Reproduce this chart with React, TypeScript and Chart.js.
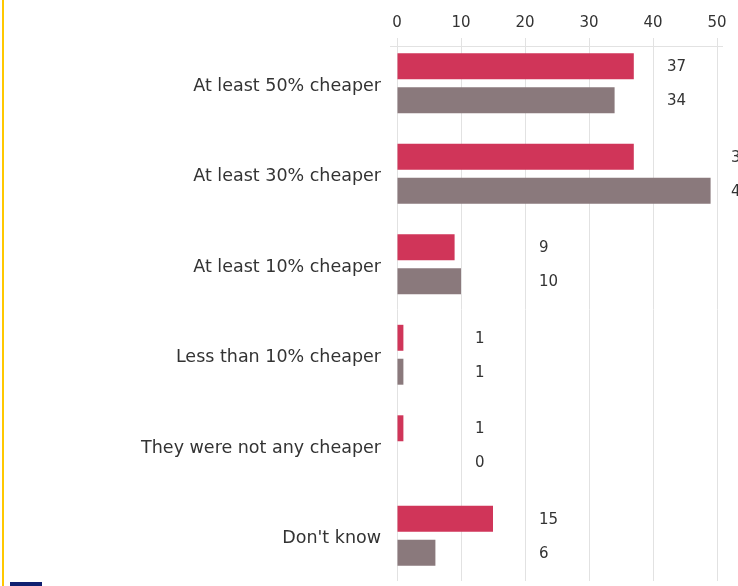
import React, { useEffect, useRef } from "react";
import { Chart, registerables } from "chart.js";

Chart.register(...registerables);

const categories = [
  "At least 50% cheaper",
  "At least 30% cheaper",
  "At least 10% cheaper",
  "Less than 10% cheaper",
  "They were not any cheaper",
  "Don't know",
];
const seriesA = [37, 37, 9, 1, 1, 15];
const seriesB = [34, 49, 10, 1, 0, 6];
const xTicks = [0, 10, 20, 30, 40, 50];

const RED = "#d03559";
const GREY = "#8a797c";
const TEXT = "#333333";
const FONT = "'DejaVu Sans', 'Noto Sans', sans-serif";

const labelPlugin = {
  id: "valueLabels",
  afterDatasetsDraw(chart: any) {
    const ctx = chart.ctx;
    const x = chart.scales.x;
    ctx.save();
    ctx.font = `15px ${FONT}`;
    ctx.fillStyle = TEXT;
    ctx.textAlign = "left";
    ctx.textBaseline = "middle";
    categories.forEach((_, i) => {
      const m = Math.max(seriesA[i], seriesB[i]);
      const nextTen = 10 * (Math.floor(m / 10) + 1);
      const lx = x.getPixelForValue(nextTen) + 14;
      chart.data.datasets.forEach((ds: any, di: number) => {
        const el = chart.getDatasetMeta(di).data[i];
        ctx.fillText(String(ds.data[i]), lx, el.y + 1);
      });
    });
    ctx.restore();
  },
  beforeDatasetsDraw(chart: any) {
    const ctx = chart.ctx;
    const a = chart.chartArea;
    ctx.save();
    ctx.strokeStyle = "#e2e2e2";
    ctx.lineWidth = 1;
    ctx.beginPath();
    ctx.moveTo(a.left - 7, a.top + 8.5);
    ctx.lineTo(a.right + 6, a.top + 8.5);
    ctx.stroke();
    ctx.restore();
  },
};

export default function App() {
  const ref = useRef<HTMLCanvasElement | null>(null);
  useEffect(() => {
    document.body.style.margin = "0";
    const chart = new Chart(ref.current as HTMLCanvasElement, {
      type: "bar",
      data: {
        labels: categories,
        datasets: [
          { label: "A", data: seriesA, backgroundColor: RED, categoryPercentage: 0.75, barPercentage: 0.765 },
          { label: "B", data: seriesB, backgroundColor: GREY, categoryPercentage: 0.75, barPercentage: 0.765 },
        ],
      },
      options: {
        indexAxis: "y",
        animation: false,
        responsive: true,
        maintainAspectRatio: false,
        layout: { padding: { left: 0, right: 21, top: 0, bottom: 5 } },
        plugins: { legend: { display: false }, tooltip: { enabled: false } },
        scales: {
          x: {
            position: "top",
            min: 0,
            max: 50,
            afterBuildTicks: (s: any) => {
              s.ticks = xTicks.map((v) => ({ value: v }));
            },
            afterFit: (s: any) => {
              s.height = 38;
            },
            grid: { color: "#e2e2e2", tickLength: 0, drawTicks: false },
            border: { display: false },
            ticks: { color: TEXT, font: { family: FONT, size: 15 }, padding: 6 },
          },
          y: {
            afterFit: (s: any) => {
              s.width = 397;
              s.paddingTop = 0;
              s.paddingBottom = 0;
            },
            grid: { display: false, drawTicks: false },
            border: { display: false },
            ticks: { color: TEXT, font: { family: FONT, size: 17.5 }, padding: 16, labelOffset: 3 },
          },
        },
      },
      plugins: [labelPlugin],
    } as any);
    return () => chart.destroy();
  }, []);
  return (
    <div style={{ position: "relative", width: 738, height: 586, overflow: "hidden", background: "#fff" }}>
      <div style={{ position: "absolute", left: 2, top: 0, width: 2, height: 586, background: "#ffc800" }} />
      <div style={{ position: "absolute", left: 10, top: 582, width: 32, height: 4, background: "#102070" }} />
      <div style={{ position: "absolute", left: 0, top: 0, width: 738, height: 586 }}>
        <canvas ref={ref} />
      </div>
    </div>
  );
}
